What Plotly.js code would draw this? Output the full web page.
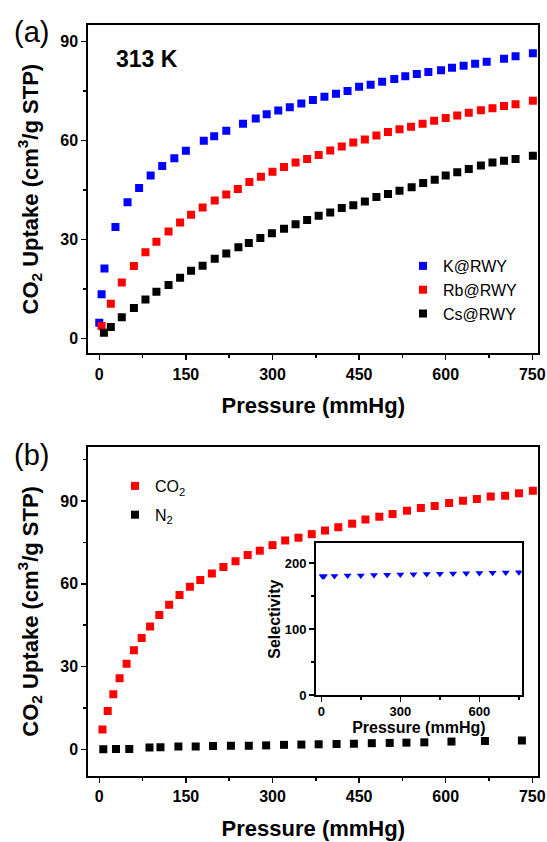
<!DOCTYPE html>
<html><head><meta charset="utf-8">
<script src="https://cdn.plot.ly/plotly-3.0.1.min.js"></script>
<style>html,body{margin:0;padding:0;background:#fff}</style>
</head><body><div id="chart" style="width:547px;height:842px"></div>
<script>
// Panel (a): CO2 uptake at 313 K
const pK = [0, 4, 9, 28, 49, 69, 89, 109, 130, 150, 181, 199, 220, 249, 271, 290, 310, 330, 350, 370, 390, 410, 430, 450, 470, 490, 511, 530, 550, 570, 592, 611, 631, 651, 671, 701, 721, 751];
const uK = [4.7, 13.4, 21.2, 33.8, 41.3, 45.6, 49.4, 52.3, 54.6, 56.9, 59.9, 61.3, 63.0, 65.1, 66.7, 68.0, 69.1, 70.1, 71.2, 72.3, 73.3, 74.2, 75.0, 76.3, 76.9, 77.8, 78.7, 79.5, 80.2, 80.8, 81.3, 82.1, 82.7, 83.3, 83.9, 84.8, 85.6, 86.5];
const pRb = [4, 20, 39, 60, 80, 99, 120, 140, 159, 179, 200, 220, 240, 260, 280, 300, 320, 340, 360, 380, 400, 420, 440, 460, 480, 500, 520, 540, 560, 580, 600, 620, 640, 661, 681, 701, 721, 751];
const uRb = [3.7, 10.5, 16.9, 21.9, 26.1, 29.3, 32.4, 35.1, 37.5, 39.7, 41.8, 43.6, 45.3, 47.4, 49.0, 50.5, 52.0, 53.3, 54.4, 55.6, 57.0, 58.2, 59.4, 60.3, 61.5, 62.6, 63.4, 64.2, 65.1, 66.0, 66.8, 67.6, 68.4, 69.2, 69.8, 70.5, 71.0, 72.1];
const pCs = [8, 20, 39, 60, 80, 99, 120, 140, 159, 179, 200, 220, 241, 259, 279, 299, 320, 340, 360, 380, 400, 420, 440, 460, 480, 500, 520, 541, 561, 581, 600, 620, 640, 661, 681, 701, 721, 751];
const uCs = [1.7, 3.4, 6.4, 9.2, 11.8, 14.1, 16.2, 18.4, 20.5, 22.0, 24.1, 25.7, 27.6, 28.9, 30.4, 31.9, 33.2, 34.6, 35.9, 37.2, 38.2, 39.5, 40.4, 41.5, 42.9, 43.8, 44.8, 45.8, 47.1, 48.1, 49.4, 50.4, 51.4, 52.4, 53.3, 53.9, 54.4, 55.4];

// Panel (b): CO2 vs N2
const pCO2 = [5.5, 14.6, 24.3, 35.2, 47.3, 60, 73.4, 88, 104, 121, 139, 157, 175, 195, 215, 236, 257, 278, 300, 322, 345, 368, 391, 414, 438, 461, 485, 508, 533, 557, 581, 606, 630, 654, 678, 703, 727, 751];
const uCO2 = [7.2, 13.9, 19.9, 25.7, 31.0, 35.9, 40.3, 44.5, 48.7, 52.4, 55.9, 58.9, 61.4, 63.7, 66.1, 68.2, 70.4, 72.0, 74.0, 75.7, 76.7, 78.0, 79.3, 80.5, 81.8, 83.3, 84.3, 85.3, 86.5, 87.5, 88.2, 89.3, 90.1, 90.7, 91.6, 91.9, 92.8, 93.7];
const pN2 = [7, 29, 52, 87, 106, 137, 167, 197, 228, 259, 289, 320, 350, 380, 411, 441, 472, 503, 532, 563, 610, 668, 732];
const uN2 = [0, 0.1, 0.1, 0.6, 0.7, 1.0, 1.0, 1.2, 1.3, 1.3, 1.4, 1.6, 1.7, 1.8, 1.9, 2.0, 2.2, 2.3, 2.4, 2.5, 2.8, 3.0, 3.2];

// Inset: selectivity
const pSel = [5, 10, 50, 100, 150, 200, 250, 300, 350, 400, 450, 500, 550, 600, 650, 700, 750];
const sel = [180, 180, 180.5, 181, 181.3, 181.8, 182.2, 182.6, 183, 183.4, 183.8, 184.2, 184.6, 185, 185.4, 185.8, 186.2];

const xTicks = [0, 150, 300, 450, 600, 750];
const yTicks = [0, 30, 60, 90];
const insetXTicks = [0, 300, 600];
const insetYTicks = [0, 100, 200];

const FONT = 'Arial, "Liberation Sans", sans-serif';
const W = 547, H = 842;
const px = v => v / W, py = v => 1 - v / H;

function sq(color, size) { return {symbol: 'square', color: color, size: size, line: {width: 0}}; }

const traces = [
  {x: pK, y: uK, name: 'K@RWY', mode: 'markers', type: 'scatter', xaxis: 'x', yaxis: 'y', marker: sq('#0000ff', 8), legend: 'legend'},
  {x: pRb, y: uRb, name: 'Rb@RWY', mode: 'markers', type: 'scatter', xaxis: 'x', yaxis: 'y', marker: sq('#ff0000', 8), legend: 'legend'},
  {x: pCs, y: uCs, name: 'Cs@RWY', mode: 'markers', type: 'scatter', xaxis: 'x', yaxis: 'y', marker: sq('#000000', 8), legend: 'legend'},
  {x: pCO2, y: uCO2, name: 'CO<sub>2</sub>', mode: 'markers', type: 'scatter', xaxis: 'x2', yaxis: 'y2', marker: sq('#ff0000', 8), legend: 'legend2', legendgroup: 'co2'},
  {x: pN2, y: uN2, name: 'N<sub>2</sub>', mode: 'markers', type: 'scatter', xaxis: 'x2', yaxis: 'y2', marker: sq('#000000', 8), legend: 'legend2', legendgroup: 'n2'},
  {x: pSel, y: sel, name: 'Selectivity', mode: 'markers', type: 'scatter', xaxis: 'x3', yaxis: 'y3', marker: {symbol: 'triangle-down', color: '#0000ff', size: 7, line: {width: 0}}, showlegend: false}
];

function axisBase(extra) {
  return Object.assign({
    showline: true, linecolor: '#000', linewidth: 2, mirror: true,
    ticks: 'outside', ticklen: 5, tickwidth: 1.5, tickcolor: '#000',
    showgrid: false, zeroline: false, automargin: false,
    tickfont: {family: FONT, size: 16, color: '#000', weight: 'bold'}
  }, extra);
}
function minor(len, dt) { return {ticks: 'outside', ticklen: len, tickwidth: 1.5, tickcolor: '#000', dtick: dt, tick0: 0, showgrid: false}; }

const yTitle = {text: '<b>CO<sub>2</sub> Uptake (cm<sup>3</sup>/g STP)</b>', font: {family: FONT, size: 22, color: '#000'}, standoff: 16};
const xTitle = {text: '<b>Pressure (mmHg)</b>', font: {family: FONT, size: 22, color: '#000'}, standoff: 16};

const layout = {
  width: W, height: H,
  margin: {l: 0, r: 0, t: 0, b: 0},
  paper_bgcolor: '#fff', plot_bgcolor: '#fff',
  showlegend: true,
  xaxis: axisBase({domain: [px(88.3), px(538.3)], range: [-19, 760.4], tickvals: xTicks, anchor: 'y', title: xTitle, minor: minor(3, 75)}),
  yaxis: axisBase({domain: [py(353.3), py(25)], range: [-4.55, 95.05], tickvals: yTicks, anchor: 'x', title: yTitle, minor: minor(3, 15)}),
  xaxis2: axisBase({domain: [px(88.3), px(538.3)], range: [-19, 760.4], tickvals: xTicks, anchor: 'y2', title: xTitle, minor: minor(3, 75)}),
  yaxis2: axisBase({domain: [py(776), py(446.7)], range: [-9.7, 109.7], tickvals: yTicks, anchor: 'x2', title: yTitle, minor: minor(3, 15)}),
  xaxis3: axisBase({domain: [px(316), px(521.7)], range: [-20, 760.5], tickvals: insetXTicks, anchor: 'y3', ticklen: 5,
    ticklabelstandoff: -2,
    tickfont: {family: FONT, size: 13, color: '#000', weight: 'bold'},
    title: {text: '<b>Pressure (mmHg)</b>', font: {family: FONT, size: 16, color: '#000'}, standoff: 2},
    minor: minor(3, 150)}),
  yaxis3: axisBase({domain: [py(695), py(543.3)], range: [0, 230], tickvals: insetYTicks, anchor: 'x3', ticklen: 5,
    tickfont: {family: FONT, size: 13, color: '#000', weight: 'bold'},
    title: {text: '<b>Selectivity</b>', font: {family: FONT, size: 16, color: '#000'}, standoff: 0},
    minor: minor(3, 50)}),
  legend: {x: px(403), y: py(249), xanchor: 'left', yanchor: 'top', bgcolor: 'rgba(0,0,0,0)',
    font: {family: FONT, size: 16, color: '#000'}, itemsizing: 'trace', tracegroupgap: 0},
  legend2: {x: px(115), y: py(469), xanchor: 'left', yanchor: 'top', bgcolor: 'rgba(0,0,0,0)',
    font: {family: FONT, size: 16, color: '#000'}, itemsizing: 'trace', tracegroupgap: 5},
  annotations: [
    {text: '(a)', xref: 'paper', yref: 'paper', x: px(31), y: py(32), xanchor: 'center', yanchor: 'middle', showarrow: false, font: {family: FONT, size: 29, color: '#000'}},
    {text: '(b)', xref: 'paper', yref: 'paper', x: px(31), y: py(455), xanchor: 'center', yanchor: 'middle', showarrow: false, font: {family: FONT, size: 29, color: '#000'}},
    {text: '<b>313 K</b>', xref: 'paper', yref: 'paper', x: px(114), y: py(59), xanchor: 'left', yanchor: 'middle', showarrow: false, font: {family: FONT, size: 23, color: '#000'}}
  ]
};

Plotly.newPlot('chart', traces, layout, {displayModeBar: false, staticPlot: true});
</script>
</body></html>
